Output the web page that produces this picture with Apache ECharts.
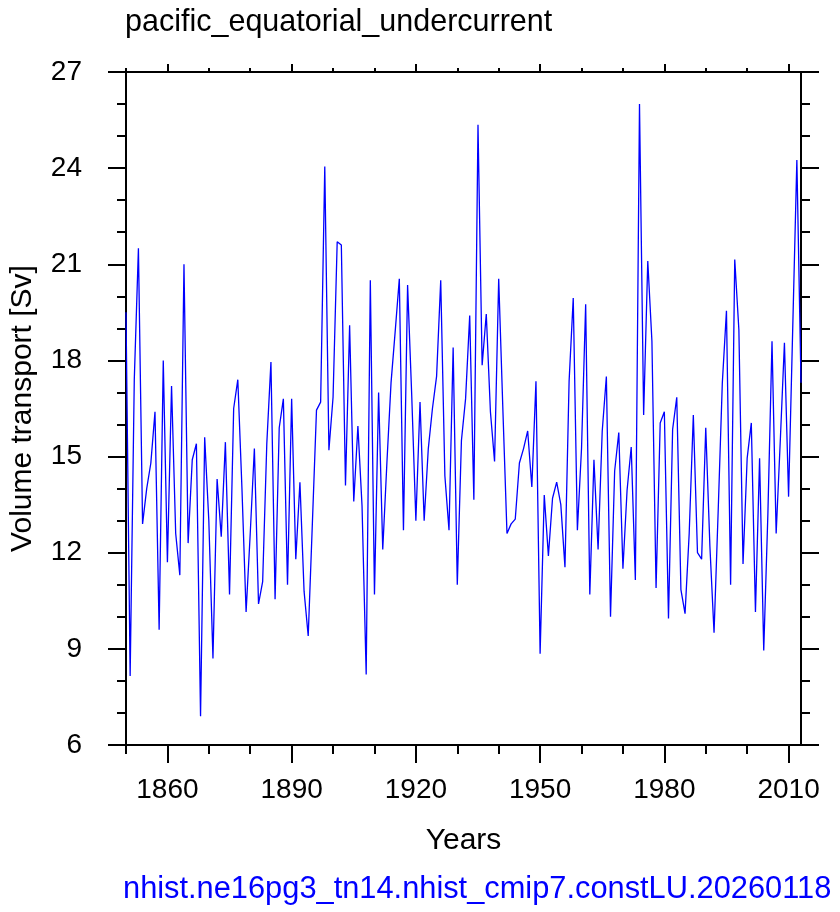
<!DOCTYPE html>
<html>
<head>
<meta charset="utf-8">
<script src="https://cdn.jsdelivr.net/npm/echarts@6/dist/echarts.min.js"></script>
<style>
  html, body { margin: 0; padding: 0; background: #fff; }
  #chart { width: 840px; height: 912px; }
</style>
</head>
<body>
<div id="chart"></div>
<script>
// yillik qiymatlar, 1850 dan boshlab
const startYear = 1850;
const transport = [
  19.5, 8.15, 17.4, 21.5, 12.9, 14.0, 14.8, 16.4, 9.6, 18.0,
  11.7, 17.2, 12.6, 11.3, 21.0, 12.3, 14.9, 15.4, 6.9, 15.6,
  13.0, 8.7, 14.3, 12.5, 15.45, 10.7, 16.5, 17.4, 14.0, 10.15,
  12.6, 15.25, 10.4, 11.1, 15.4, 17.95, 10.55, 15.9, 16.8, 11.0,
  16.8, 11.8, 14.2, 10.8, 9.4, 12.9, 16.45, 16.7, 24.05, 15.2,
  16.85, 21.7, 21.6, 14.1, 19.1, 13.6, 15.95, 13.45, 8.2, 20.5,
  10.7, 17.0, 12.1, 14.8, 17.3, 18.9, 20.55, 12.7, 20.35, 16.9,
  13.0, 16.7, 13.0, 15.25, 16.5, 17.5, 20.5, 14.4, 12.7, 18.4,
  11.0, 15.5, 16.8, 19.4, 13.65, 25.35, 17.85, 19.45, 16.4, 14.85,
  20.55, 16.5, 12.6, 12.9, 13.05, 14.8, 15.25, 15.8, 14.05, 17.35,
  8.85, 13.8, 11.9, 13.7, 14.2, 13.5, 11.55, 17.35, 19.95, 12.7,
  15.25, 19.75, 10.7, 14.9, 12.1, 15.8, 17.5, 10.0, 14.55, 15.75,
  11.5, 13.95, 15.3, 11.15, 26.0, 16.3, 21.1, 18.6, 10.9, 16.05,
  16.4, 9.95, 15.85, 16.85, 10.85, 10.1, 12.6, 16.3, 12.0, 11.8,
  15.9, 12.2, 9.5, 13.3, 17.3, 19.55, 11.0, 21.15, 18.95, 11.65,
  14.95, 16.05, 10.15, 14.95, 8.95, 13.2, 18.6, 12.6, 15.5, 18.55,
  13.75, 19.0, 24.25, 17.3
];
const xMajor = [1860, 1890, 1920, 1950, 1980, 2010];
const xMinor = [1850, 1870, 1880, 1900, 1910, 1930, 1940, 1960, 1970, 1990, 2000];

const FONT = "Liberation Sans";
const black = { color: "#000", width: 2 };

var chart = echarts.init(document.getElementById("chart"));

const points = transport.map((v, i) => [startYear + i, v]);

function xAx(position, ticks, len, main) {
  return {
    type: "value",
    position: position,
    min: 1850,
    max: 2013,
    axisLine: { show: main, onZero: false, lineStyle: black },
    axisTick: { show: true, customValues: ticks, length: len, lineStyle: black },
    axisLabel: main && position === "bottom"
      ? {
          show: true,
          customValues: xMajor,
          formatter: (v) => String(v),
          fontFamily: FONT,
          fontSize: 28,
          color: "#000",
          margin: 31,
        }
      : { show: false },
    splitLine: { show: false },
  };
}

var xBottom = xAx("bottom", xMajor, 18, true);
xBottom.name = "Years";
xBottom.nameLocation = "middle";
xBottom.nameGap = 81;
xBottom.nameMoveOverlap = false;
xBottom.nameTextStyle = { fontFamily: FONT, fontSize: 30, color: "#000" };

function yAx(position, main) {
  return {
    type: "value",
    position: position,
    min: 6,
    max: 27,
    interval: 3,
    axisLine: { show: true, onZero: false, lineStyle: black },
    axisTick: { show: true, length: 18, lineStyle: black },
    minorTick: { show: true, splitNumber: 3, length: 9, lineStyle: black },
    axisLabel: main
      ? { show: true, fontFamily: FONT, fontSize: 28, color: "#000", margin: 44 }
      : { show: false },
    splitLine: { show: false },
  };
}

var yLeft = yAx("left", true);
yLeft.name = "Volume transport [Sv]";
yLeft.nameLocation = "middle";
yLeft.nameGap = 88;
yLeft.nameMoveOverlap = false;
yLeft.nameTextStyle = { fontFamily: FONT, fontSize: 30, color: "#000" };

var option = {
  animation: false,
  backgroundColor: "#fff",
  title: [
    {
      text: "pacific_equatorial_undercurrent",
      left: 125,
      top: 7,
      padding: 0,
      textStyle: { fontFamily: FONT, fontSize: 30.5, fontWeight: "normal", color: "#000" },
    },
    {
      text: "nhist.ne16pg3_tn14.nhist_cmip7.constLU.20260118",
      left: 123,
      top: 874,
      padding: 0,
      textStyle: { fontFamily: FONT, fontSize: 30.8, fontWeight: "normal", color: "#0000ff" },
    },
  ],
  grid: {
    left: 126,
    right: 39,
    top: 72,
    bottom: 167,
    containLabel: false,
    outerBoundsMode: "none",
  },
  xAxis: [
    xBottom,
    xAx("bottom", xMinor, 9, false),
    xAx("top", xMajor, 8, true),
    xAx("top", xMinor, 4, false),
  ],
  yAxis: [yLeft, yAx("right", false)],
  series: [
    {
      type: "line",
      data: points,
      xAxisIndex: 0,
      yAxisIndex: 0,
      showSymbol: false,
      lineStyle: { color: "#0000ff", width: 1.3 },
    },
  ],
};

chart.setOption(option);
</script>
</body>
</html>
